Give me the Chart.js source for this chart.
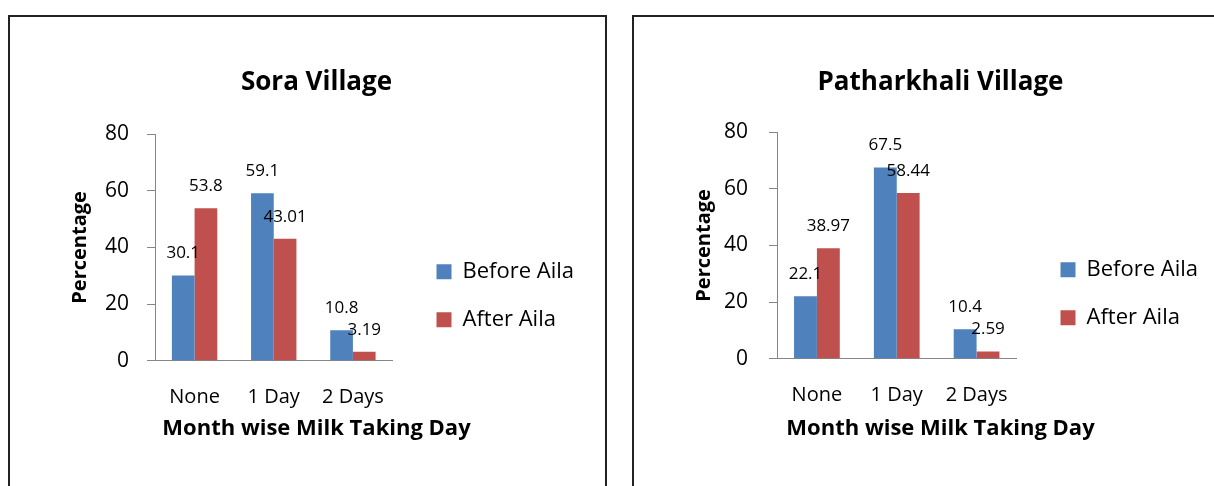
<!DOCTYPE html>
<html>
<head>
<meta charset="utf-8">
<script src="https://cdn.jsdelivr.net/npm/chart.js@4.4.0/dist/chart.umd.min.js"></script>
<style>
  html, body { margin: 0; overflow: hidden; background: #fff; }
  .frame { position: absolute; top: 15px; width: 595px; height: 470px; border: 2px solid #222; background: #fff; }
  #soraFrame { left: 8px; }
  #pathFrame { left: 632px; }
  canvas { display: block; }
</style>
</head>
<body>
<div class="frame" id="soraFrame"><canvas id="soraChart" width="595" height="470"></canvas></div>
<div class="frame" id="pathFrame"><canvas id="pathChart" width="595" height="470"></canvas></div>
<script>
const categories = ["None", "1 Day", "2 Days"];
const seriesNames = ["Before Aila", "After Aila"];
const seriesColors = ["#4F81BD", "#C0504D"];
const yTicks = [0, 20, 40, 60, 80];

const soraBefore = [30.1, 59.1, 10.8];
const soraAfter = [53.8, 43.01, 3.19];
const pathBefore = [22.1, 67.5, 10.4];
const pathAfter = [38.97, 58.44, 2.59];

Chart.defaults.font.family = "'Open Sans', sans-serif";
Chart.defaults.color = "#000";

// value printed above each bar
const barValues = {
  id: "barValues",
  afterDatasetsDraw(chart) {
    const ctx = chart.ctx;
    ctx.save();
    ctx.font = "17px 'Open Sans', sans-serif";
    ctx.fillStyle = "#000";
    ctx.textAlign = "center";
    ctx.textBaseline = "middle";
    chart.data.datasets.forEach((ds, i) => {
      chart.getDatasetMeta(i).data.forEach((bar, j) => {
        ctx.fillText(String(ds.data[j]), bar.x, bar.y - 22);
      });
    });
    ctx.restore();
  },
};

// push the legend block a little away from the plot
const legendShift = {
  id: "legendShift",
  afterLayout(chart, args, opts) {
    const lg = chart.legend;
    if (!lg) return;
    lg.left += opts.dx; lg.right += opts.dx;
    lg.top += opts.dy; lg.bottom += opts.dy;
  },
};

function makeChart(id, title, before, after, lay) {
  const axisGray = "#868686";
  return new Chart(document.getElementById(id), {
    type: "bar",
    data: {
      labels: categories,
      datasets: [before, after].map((d, i) => ({
        label: seriesNames[i],
        data: d,
        backgroundColor: seriesColors[i],
        categoryPercentage: 0.573,
        barPercentage: 1,
      })),
    },
    plugins: [barValues, legendShift],
    options: {
      responsive: false,
      animation: false,
      layout: { padding: { left: 57, right: 39, top: 0, bottom: 0 } },
      plugins: {
        title: {
          display: true,
          text: title,
          font: { size: 26, weight: "bold" },
          padding: { top: 50, bottom: lay.titleBottom },
        },
        subtitle: {
          display: true,
          position: "bottom",
          text: "Month wise Milk Taking Day",
          color: "#000",
          font: { size: 22, weight: "bold" },
          padding: { top: 4.8, bottom: 45 },
        },
        legend: {
          position: "right",
          align: "end",
          fullSize: false,
          maxWidth: 240,
          labels: { boxWidth: 15, boxHeight: 15, padding: 26, font: { size: 22 }, color: "#000" },
        },
        legendShift: { dx: 18, dy: -4 },
        tooltip: { enabled: false },
      },
      scales: {
        x: {
          grid: { display: false, drawTicks: false },
          border: { color: axisGray, width: 1 },
          ticks: { padding: 24, font: { size: 20 } },
          afterFit: (s) => { s.height = lay.xHeight; },
        },
        y: {
          min: yTicks[0],
          max: yTicks[yTicks.length - 1],
          ticks: { stepSize: yTicks[1] - yTicks[0], padding: lay.tickPad, font: { size: 21 } },
          grid: { drawOnChartArea: false, drawTicks: true, tickLength: 8, color: axisGray },
          border: { color: axisGray, width: 1 },
          title: {
            display: true,
            text: "Percentage",
            font: { size: 20, weight: "bold" },
            padding: { top: 1, bottom: 0 },
          },
          afterFit: (s) => { s.width = lay.yWidth; },
        },
      },
    },
  });
}

makeChart("soraChart", "Sora Village", soraBefore, soraAfter,
  { titleBottom: 35.8, xHeight: 50, yWidth: 88, tickPad: 18 });
makeChart("pathChart", "Patharkhali Village", pathBefore, pathAfter,
  { titleBottom: 33.8, xHeight: 52, yWidth: 86, tickPad: 21 });
</script>
</body>
</html>
